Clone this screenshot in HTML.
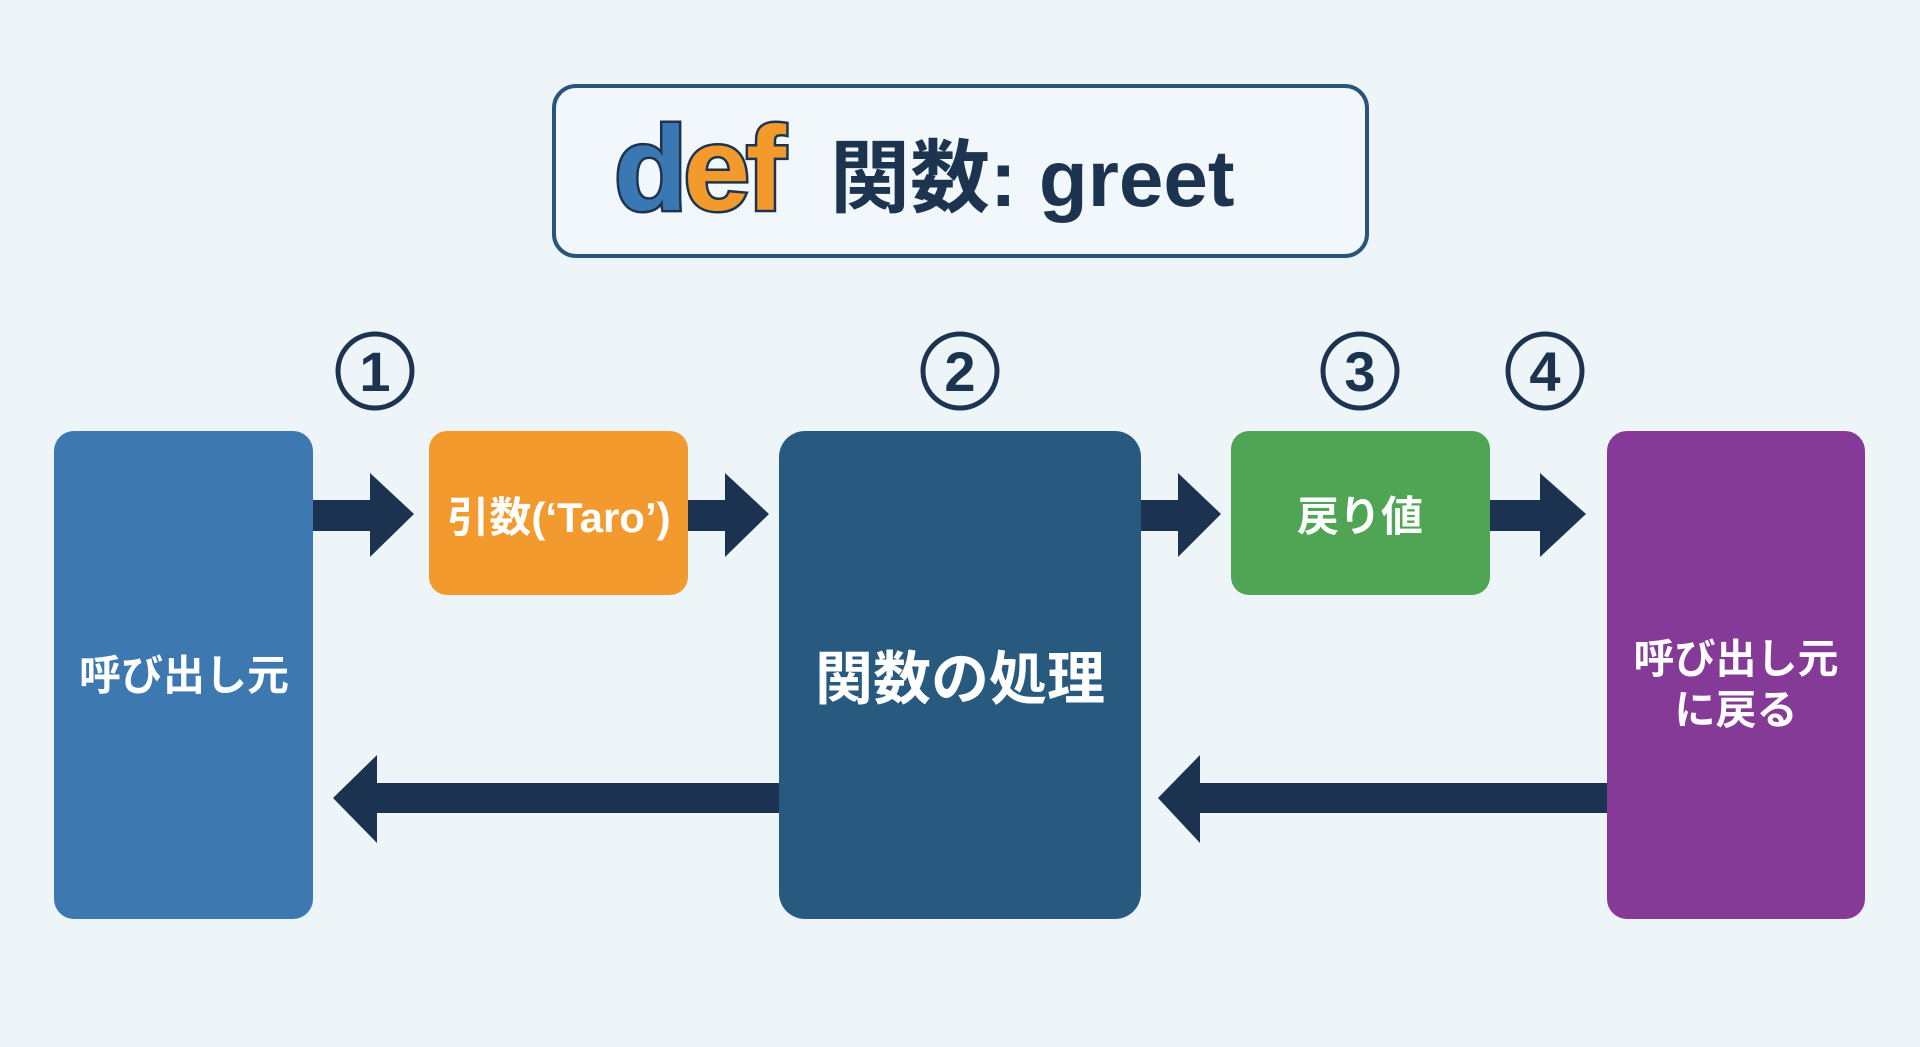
<!DOCTYPE html>
<html><head><meta charset="utf-8"><style>
html,body{margin:0;padding:0;background:#eef5f9;}
svg{display:block;}
text{font-family:"Liberation Sans","Noto Sans CJK JP",sans-serif;font-weight:bold;}
</style></head><body>
<svg width="1920" height="1047" viewBox="0 0 1920 1047" xmlns="http://www.w3.org/2000/svg">
<rect width="1920" height="1047" fill="#eef5f9"/>
<rect x="554" y="86" width="813" height="170" rx="22" fill="#f1f7fa" stroke="#2a5478" stroke-width="4"/>
<text x="614" y="210" font-size="120" letter-spacing="-4" stroke="#1d3350" stroke-width="5" paint-order="stroke"><tspan fill="#3a78b4">d</tspan><tspan fill="#f39a2c">ef</tspan></text>
<text x="830" y="206" font-size="80" fill="#1c3450">関数: greet</text>
<g fill="none" stroke="#1c3450" stroke-width="5">
<circle cx="375" cy="371" r="37"/><circle cx="960" cy="371" r="37"/>
<circle cx="1360" cy="371" r="37"/><circle cx="1545" cy="371" r="37"/>
</g>
<g font-size="56" fill="#1c3450" text-anchor="middle">
<text x="375" y="391">1</text><text x="960" y="391">2</text>
<text x="1360" y="391">3</text><text x="1545" y="391">4</text>
</g>
<rect x="54" y="431" width="259" height="488" rx="20" fill="#3d79b0"/>
<rect x="429" y="431" width="259" height="164" rx="18" fill="#f39a2e"/>
<rect x="779" y="431" width="362" height="488" rx="26" fill="#285a80"/>
<rect x="1231" y="431" width="259" height="164" rx="18" fill="#4fa553"/>
<rect x="1607" y="431" width="258" height="488" rx="20" fill="#863a97"/>
<g fill="#1b3350">
<polygon points="313,500 370,500 370,473 414,514 370,557 370,531 313,531"/>
<polygon points="688,500 725,500 725,473 769,514 725,557 725,531 688,531"/>
<polygon points="1141,500 1178,500 1178,473 1221,514 1178,557 1178,531 1141,531"/>
<polygon points="1490,500 1540,500 1540,473 1586,514 1540,557 1540,531 1490,531"/>
<polygon points="779,783 377,783 377,755 333,798 377,843 377,813 779,813"/>
<polygon points="1607,783 1200,783 1200,755 1158,798 1200,843 1200,813 1607,813"/>
</g>
<g fill="#ffffff" text-anchor="middle">
<text x="184" y="690" font-size="42">呼び出し元</text>
<text x="960" y="699" font-size="58">関数の処理</text>
<text x="1736" y="673" font-size="41">呼び出し元</text>
<text x="1736" y="724" font-size="41">に戻る</text>
<text x="559" y="532" font-size="42">引数(‘Taro’)</text>
<text x="1360" y="531" font-size="42">戻り値</text>
</g>
</svg>
</body></html>
